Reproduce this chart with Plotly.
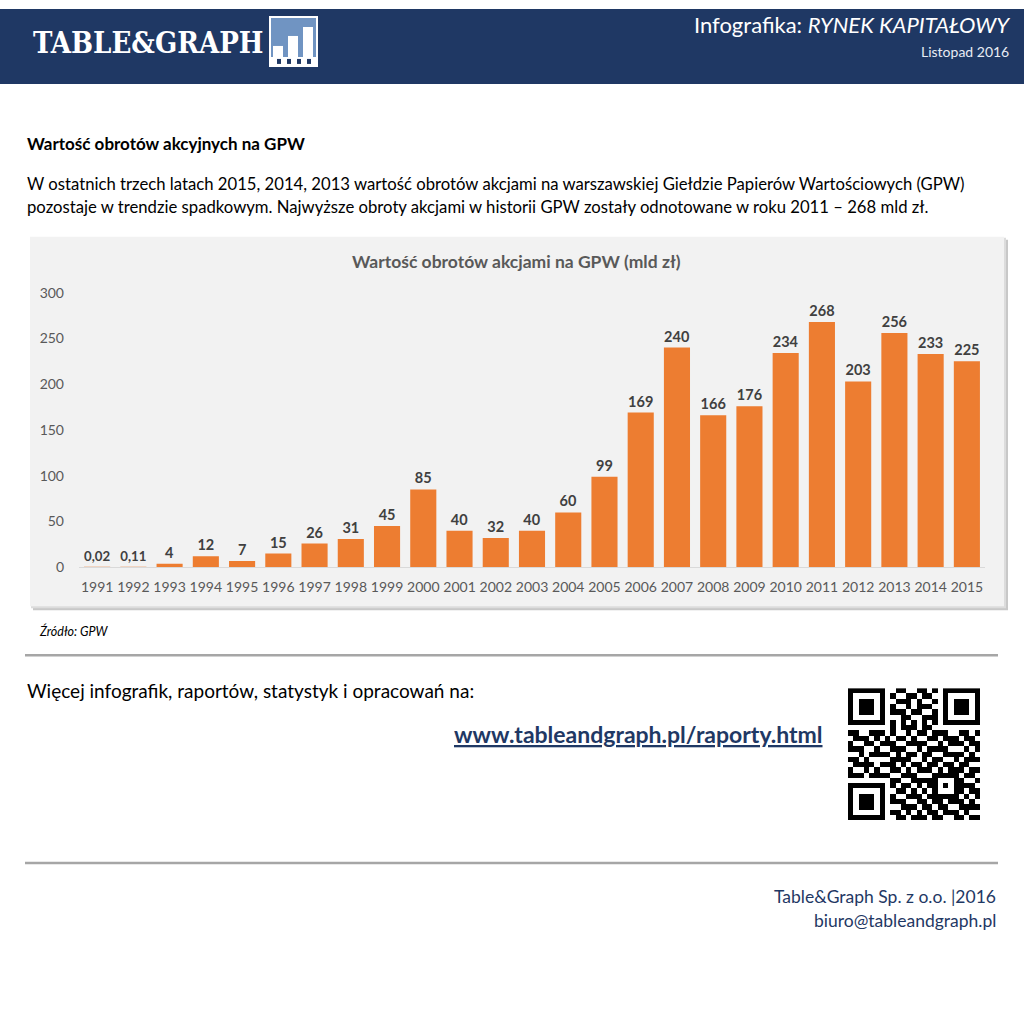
import plotly.graph_objects as go

# ---------------- data ----------------
years = [str(y) for y in range(1991, 2016)]
values = [0.02, 0.11, 4, 12, 7, 15, 26, 31, 45, 85, 40, 32, 40, 60, 99,
          169, 240, 166, 176, 234, 268, 203, 256, 233, 225]
value_labels = ["0,02", "0,11", "4", "12", "7", "15", "26", "31", "45", "85",
                "40", "32", "40", "60", "99", "169", "240", "166", "176",
                "234", "268", "203", "256", "233", "225"]
y_ticks = [0, 50, 100, 150, 200, 250, 300]

# decorative QR-like pattern (hand typed), structure overlaid in code
qr_rows = [
    "1011001101100110101110100",
    "0110110110011011001001011",
    "1101011001110100110110110",
    "0011101110010111011011001",
    "1010010011101100100101110",
    "1101101100110011101010011",
    "0110011011001100110101101",
    "1011100110111011001110010",
    "1100111010010110111001101",
    "0111010101101001101110110",
    "1001101110011110010111011",
    "1110010011100101111000101",
    "0010111101011011001111010",
    "1101001011110010110010111",
    "0111100110101101101101100",
    "1001011011010111010111011",
    "1110110100111000111010110",
    "0011001111001111001101001",
    "1010110010110101110011110",
    "0101101101101010011101011",
    "1110011010011101101010101",
    "1001110111100110110111010",
    "0110101100111011011001111",
    "1101011011010101101110100",
    "1011101101101110110011011",
]

FONT = "Lato"
NAVY = "#1f3864"
W = H = 1024
OFF = 8            # page offset observed above the figure
SCL = 1024 / 1040  # vertical scale observed in the capture


def px(x):
    return x / W


def py(y):
    v = 1 - ((y - OFF) / SCL) / H
    return min(v, 1.0)


# build QR matrix
N = 25
qr = [[int(c) for c in r] for r in qr_rows]


def finder(r0, c0):
    for r in range(-1, 8):
        for c in range(-1, 8):
            rr, cc = r0 + r, c0 + c
            if 0 <= rr < N and 0 <= cc < N:
                if r in (-1, 7) or c in (-1, 7):
                    qr[rr][cc] = 0
                elif r in (0, 6) or c in (0, 6) or (2 <= r <= 4 and 2 <= c <= 4):
                    qr[rr][cc] = 1
                else:
                    qr[rr][cc] = 0


finder(0, 0)
finder(0, 18)
finder(18, 0)
for i in range(8, 17):
    qr[6][i] = 1 - i % 2
    qr[i][6] = 1 - i % 2
for r in range(-2, 3):
    for c in range(-2, 3):
        qr[18 + r][18 + c] = 1 if (abs(r) == 2 or abs(c) == 2 or (r == 0 and c == 0)) else 0

fig = go.Figure()

fig.add_trace(go.Bar(
    x=years, y=values, text=value_labels, textposition="outside",
    marker=dict(color="#ed7d31", line=dict(width=0)),
    textfont=dict(family=FONT, size=14.5, color="#404040", weight="bold"),
    cliponaxis=False, hoverinfo="skip", showlegend=False,
))

fig.add_trace(go.Heatmap(
    z=qr, xaxis="x2", yaxis="y2", showscale=False,
    colorscale=[[0, "white"], [1, "black"]], zmin=0, zmax=1, hoverinfo="skip",
))

shapes = []
# header band
shapes.append(dict(type="rect", xref="paper", yref="paper", x0=0, x1=1,
                   y0=py(83), y1=1, fillcolor=NAVY, line=dict(width=0), layer="below"))
# logo icon
shapes.append(dict(type="rect", xref="paper", yref="paper", x0=px(269), x1=px(318),
                   y0=py(66), y1=py(15), fillcolor="white", line=dict(width=0)))
shapes.append(dict(type="rect", xref="paper", yref="paper", x0=px(271), x1=px(316),
                   y0=py(56), y1=py(17), fillcolor="#7094c2", line=dict(width=0)))
for bx0, bx1, top in [(273, 283, 45), (288, 298, 35), (303, 313, 26)]:
    shapes.append(dict(type="rect", xref="paper", yref="paper", x0=px(bx0), x1=px(bx1),
                       y0=py(58), y1=py(top), fillcolor="white", line=dict(width=0)))
for sx in [277, 287, 297, 307]:
    shapes.append(dict(type="rect", xref="paper", yref="paper", x0=px(sx), x1=px(sx + 4),
                       y0=py(63), y1=py(58), fillcolor="#1f3864", line=dict(width=0)))
# chart box shadow + box
shapes.append(dict(type="rect", xref="paper", yref="paper", x0=px(33), x1=px(1008),
                   y0=py(610), y1=py(239), fillcolor="#c8c8c8", line=dict(width=0), layer="below"))
shapes.append(dict(type="rect", xref="paper", yref="paper", x0=px(31), x1=px(1006),
                   y0=py(608), y1=py(237), fillcolor="#dcdcdc", line=dict(width=0), layer="below"))
shapes.append(dict(type="rect", xref="paper", yref="paper", x0=px(30), x1=px(1004),
                   y0=py(606), y1=py(236), fillcolor="#f2f2f2", line=dict(width=0), layer="below"))
# separator lines
for yy in (655, 863):
    shapes.append(dict(type="line", xref="paper", yref="paper", x0=px(25), x1=px(998),
                       y0=py(yy), y1=py(yy), line=dict(color="#a6a6a6", width=2.5)))

ann = []


def text(x, y, s, size, color="black", xanchor="left", bold=False, italic=False, family=FONT):
    ann.append(dict(xref="paper", yref="paper", x=px(x), y=py(y), text=s,
                    showarrow=False, xanchor=xanchor, yanchor="middle",
                    font=dict(family=family, size=size, color=color,
                              weight="bold" if bold else "normal",
                              style="italic" if italic else "normal")))


# header texts
text(31, 42, "TABLE&GRAPH", 29, "white", bold=True, family="DejaVu Serif Condensed")
text(1012, 24, "Infografika: <i>RYNEK KAPITAŁOWY</i>", 22, "white", xanchor="right")
text(1011, 51, "Listopad 2016", 14, "#e8ecf4", xanchor="right")
# intro
text(25, 143, "Wartość obrotów akcyjnych na GPW", 17, "black", bold=True)
text(25, 183, "W ostatnich trzech latach 2015, 2014, 2013 wartość obrotów akcjami na warszawskiej "
     "Giełdzie Papierów Wartościowych (GPW)", 16.7)
text(25, 206, "pozostaje w trendzie spadkowym. Najwyższe obroty akcjami w historii GPW zostały "
     "odnotowane w roku 2011 – 268 mld zł.", 16.7)
# chart title
text(516, 261, "Wartość obrotów akcjami na GPW (mld zł)", 17.5, "#595959", xanchor="center", bold=True)
# source
text(37, 631, "Źródło: GPW", 12.5, "black", italic=True)
# bottom
text(25, 690, "Więcej infografik, raportów, statystyk i opracowań na:", 19)
text(825, 734, "<u>www.tableandgraph.pl/raporty.html</u>", 23, NAVY, xanchor="right", bold=True)
text(998, 897, "Table&Graph Sp. z o.o. |2016", 17.5, NAVY, xanchor="right")
text(998, 921, "biuro@tableandgraph.pl", 17.5, NAVY, xanchor="right")

fig.update_layout(
    width=W, height=H, margin=dict(l=0, r=0, t=0, b=0),
    paper_bgcolor="white", plot_bgcolor="rgba(0,0,0,0)",
    bargap=0.28, shapes=shapes, annotations=ann,
    font=dict(family=FONT),
    xaxis=dict(domain=[px(79), px(985)], tickfont=dict(family=FONT, size=14, color="#595959"),
               showgrid=False, showline=True, linecolor="#d9d9d9", linewidth=1,
               ticks="", ticklabelstandoff=7, fixedrange=True),
    yaxis=dict(domain=[py(567), py(292)], range=[0, 300], tickvals=y_ticks,
               tickfont=dict(family=FONT, size=14, color="#595959"),
               showgrid=False, zeroline=False, showline=False, ticks="",
               ticklabelstandoff=14, fixedrange=True),
    xaxis2=dict(domain=[px(848), px(980)], range=[-0.5, 24.5], visible=False,
                anchor="y2", fixedrange=True),
    yaxis2=dict(domain=[py(820), py(688)], range=[24.5, -0.5], visible=False,
                anchor="x2", fixedrange=True),
)

post = (
    "document.documentElement.style.margin='0';"
    "document.documentElement.style.padding='0';"
    "document.body.style.margin='0';document.body.style.padding='0';"
)
fig.write_html("out.html", config={"displayModeBar": False}, post_script=post)
